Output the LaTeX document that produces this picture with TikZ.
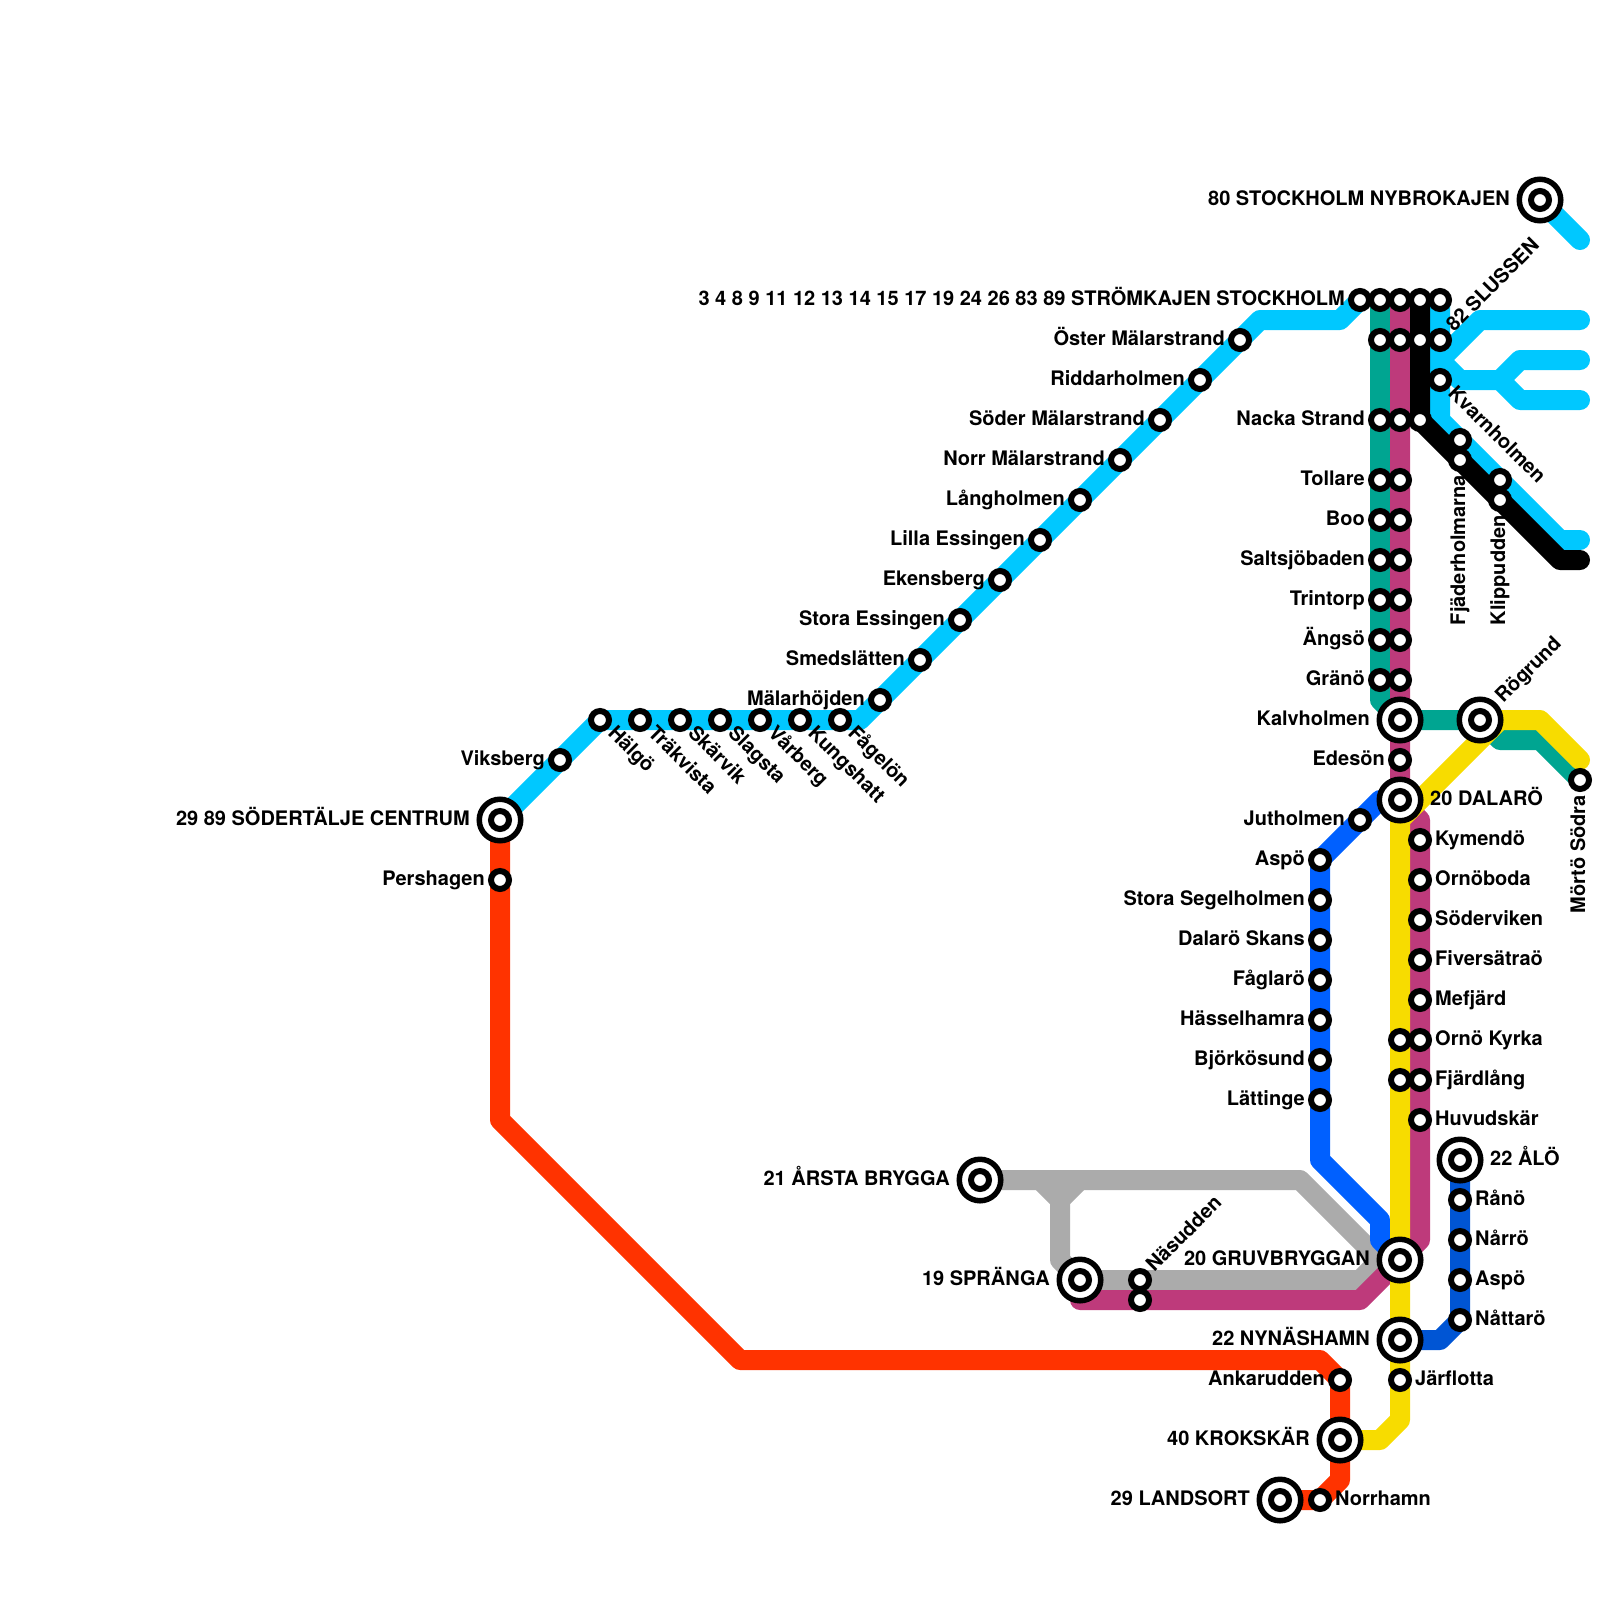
\documentclass[tikz,border=0pt]{standalone}
\usepackage{fontspec}
\setmainfont{TeX Gyre Heros}
\pgfdeclarelayer{lines}
\pgfsetlayers{lines,main}
\definecolor{cCyan}{HTML}{00C8FF}
\definecolor{cTeal}{HTML}{00A591}
\definecolor{cMag}{HTML}{BE3A7B}
\definecolor{cYel}{HTML}{F7DC00}
\definecolor{cBlue}{HTML}{0060FF}
\definecolor{cDark}{HTML}{0055D4}
\definecolor{cRed}{HTML}{FF3300}
\definecolor{cGray}{HTML}{ABABAB}
\tikzset{
  x=1pt,y=-1pt,
  metro/.style={line width=20pt,line cap=round,line join=round},
  st/.style={circle,draw=black,fill=white,line width=6pt,minimum size=18pt,inner sep=0pt},
  bigst/.style={circle,draw=black,fill=white,line width=5.5pt,minimum size=41.5pt,inner sep=0pt},
  txt/.style={inner sep=0pt,font=\bfseries\fontsize{20}{23}\selectfont}
}
\newcommand\W[2]{\coordinate (#1) at (#2);}
\newcommand\lab[5]{\node[txt,rotate=#2,anchor=#4] (l-#1) at ([xshift={((#3)*cos(#2)+5*sin(#2))*1pt},yshift={((#3)*sin(#2)-5*cos(#2))*1pt}]#1.center) {#5};}
\newcommand\SN[2]{\node[st] (#1) at (#2) {};}
\newcommand\BN[2]{\node[bigst] (#1) at (#2) {};\node[st] (#1-i) at (#1.center) {};}
\newcommand\SL[3]{\SN{#1}{#2}\lab{#1}{0}{-15}{base east}{#3}}
\newcommand\SR[3]{\SN{#1}{#2}\lab{#1}{0}{15}{base west}{#3}}
\newcommand\SD[3]{\SN{#1}{#2}\lab{#1}{-45}{15}{base west}{#3}}
\newcommand\SU[3]{\SN{#1}{#2}\lab{#1}{45}{15}{base west}{#3}}
\newcommand\SV[3]{\SN{#1}{#2}\lab{#1}{90}{-15}{base east}{#3}}
\newcommand\BL[3]{\BN{#1}{#2}\lab{#1}{0}{-30}{base east}{#3}}
\newcommand\BR[3]{\BN{#1}{#2}\lab{#1}{0}{30}{base west}{#3}}
\newcommand\BU[3]{\BN{#1}{#2}\lab{#1}{45}{28}{base west}{#3}}
\begin{document}
\begin{tikzpicture}
\useasboundingbox (0,0) rectangle (1600,1600);
% waypoints
\W{c1}{860,720}\W{c2}{1260,320}\W{c3}{1340,320}\W{c4}{1580,240}
\W{c5}{1440,420}\W{c6}{1560,540}\W{c7}{1580,540}
\W{c8}{1580,320}\W{c9}{1480,320}\W{c10}{1440,360}\W{c11}{1460,380}\W{c12}{1500,380}\W{c13}{1520,360}\W{c14}{1580,360}\W{c15}{1520,400}\W{c16}{1580,400}
\W{k1}{1420,420}\W{k2}{1560,560}\W{k3}{1580,560}
\W{t1}{1380,700}\W{t2}{1500,740}\W{t3}{1540,740}
\W{m1}{1400,800}\W{m2}{1420,820}\W{m3}{1420,1240}\W{m4}{1360,1300}\W{m5}{1080,1300}
\W{y1}{1500,720}\W{y2}{1540,720}\W{y3}{1580,760}\W{y4}{1400,820}\W{y5}{1400,1420}\W{y6}{1380,1440}
\W{b1}{1380,800}\W{b2}{1320,1160}\W{b3}{1380,1220}\W{b4}{1380,1240}
\W{d1}{1440,1340}
\W{r1}{500,1120}\W{r2}{740,1360}\W{r3}{1320,1360}\W{r4}{1340,1480}
\W{g1}{1300,1180}\W{g2}{1380,1260}\W{g3}{1040,1180}\W{g4}{1080,1180}\W{g5}{1060,1200}\W{g6}{1060,1260}\W{g7}{1080,1280}\W{g8}{1360,1280}
% stations
\BL{sod}{500,820}{29 89 SÖDERTÄLJE CENTRUM}
\SL{per}{500,880}{Pershagen}
\SL{vik}{560,760}{Viksberg}
\SD{hal}{600,720}{Hälgö}
\SD{tra}{640,720}{Träkvista}
\SD{ska}{680,720}{Skärvik}
\SD{sla}{720,720}{Slagsta}
\SD{var}{760,720}{Vårberg}
\SD{kun}{800,720}{Kungshatt}
\SD{fag}{840,720}{Fågelön}
\SL{mal}{880,700}{Mälarhöjden}
\SL{sme}{920,660}{Smedslätten}
\SL{sto}{960,620}{Stora Essingen}
\SL{eke}{1000,580}{Ekensberg}
\SL{lil}{1040,540}{Lilla Essingen}
\SL{lan}{1080,500}{Långholmen}
\SL{nor}{1120,460}{Norr Mälarstrand}
\SL{sod2}{1160,420}{Söder Mälarstrand}
\SL{rid}{1200,380}{Riddarholmen}
\SL{ost}{1240,340}{Öster Mälarstrand}
\SL{str}{1360,300}{3 4 8 9 11 12 13 14 15 17 19 24 26 83 89 STRÖMKAJEN STOCKHOLM}
\SN{a2}{1380,300}\SN{a3}{1400,300}\SN{a4}{1420,300}\SN{a5}{1440,300}
\SN{e2}{1380,340}\SN{e3}{1400,340}\SN{e4}{1420,340}
\SU{slu}{1440,340}{82 SLUSSEN}
\SD{kva}{1440,380}{Kvarnholmen}
\BL{nyb}{1540,200}{80 STOCKHOLM NYBROKAJEN}
\SL{nac}{1380,420}{Nacka Strand}\SN{n2}{1400,420}\SN{n3}{1420,420}
\SL{tol}{1380,480}{Tollare}\SN{p2}{1400,480}
\SL{boo}{1380,520}{Boo}\SN{q2}{1400,520}
\SL{sal}{1380,560}{Saltsjöbaden}\SN{u2}{1400,560}
\SL{tri}{1380,600}{Trintorp}\SN{v2}{1400,600}
\SL{ang}{1380,640}{Ängsö}\SN{w2}{1400,640}
\SL{gra}{1380,680}{Gränö}\SN{x2}{1400,680}
\SN{f1}{1460,440}
\SV{fja}{1460,460}{Fjäderholmarna}
\SN{f3}{1500,480}
\SV{kli}{1500,500}{Klippudden}
\BL{kal}{1400,720}{Kalvholmen}
\BU{rog}{1480,720}{Rögrund}
\SV{mor}{1580,780}{Mörtö Södra}
\SL{ede}{1400,760}{Edesön}
\BR{dal}{1400,800}{20 DALARÖ}
\SL{jut}{1360,820}{Jutholmen}
\SL{asp}{1320,860}{Aspö}
\SL{seg}{1320,900}{Stora Segelholmen}
\SL{dsk}{1320,940}{Dalarö Skans}
\SL{fgl}{1320,980}{Fåglarö}
\SL{has}{1320,1020}{Hässelhamra}
\SL{bjo}{1320,1060}{Björkösund}
\SL{lat}{1320,1100}{Lättinge}
\SR{kym}{1420,840}{Kymendö}
\SR{orb}{1420,880}{Ornöboda}
\SR{sdv}{1420,920}{Söderviken}
\SR{fiv}{1420,960}{Fiversätraö}
\SR{mef}{1420,1000}{Mefjärd}
\SR{okr}{1420,1040}{Ornö Kyrka}
\SR{fjl}{1420,1080}{Fjärdlång}
\SR{huv}{1420,1120}{Huvudskär}
\SN{h1}{1400,1040}\SN{h2}{1400,1080}
\BR{alo}{1460,1160}{22 ÅLÖ}
\SR{ran}{1460,1200}{Rånö}
\SR{nar}{1460,1240}{Nårrö}
\SR{as2}{1460,1280}{Aspö}
\SR{nat}{1460,1320}{Nåttarö}
\BL{ars}{980,1180}{21 ÅRSTA BRYGGA}
\BL{spr}{1080,1280}{19 SPRÄNGA}
\SU{nas}{1140,1280}{Näsudden}
\SN{nas2}{1140,1300}
\BL{gru}{1400,1260}{20 GRUVBRYGGAN}
\BL{nyn}{1400,1340}{22 NYNÄSHAMN}
\SR{jar}{1400,1380}{Järflotta}
\SL{ank}{1340,1380}{Ankarudden}
\BL{kro}{1340,1440}{40 KROKSKÄR}
\BL{lnd}{1280,1500}{29 LANDSORT}
\SR{nrh}{1320,1500}{Norrhamn}
\begin{pgfonlayer}{lines}
\draw[metro,cCyan] (sod.center) -- (hal.center) -- (c1) -- (c2) -- (c3) -- (str.center);
\draw[metro,cCyan] (nyb.center) -- (c4);
\draw[metro,cCyan] (a5.center) -- (c5) -- (c6) -- (c7);
\draw[metro,cCyan] (c8) -- (c9) -- (c10) -- (c11) -- (c12) -- (c13) -- (c14);
\draw[metro,cCyan] (c12) -- (c15) -- (c16);
\draw[metro,cGray] (ars.center) -- (g1) -- (g2) -- (gru.center);
\draw[metro,cGray] (g3) -- (g5) -- (g4);
\draw[metro,cGray] (g5) -- (g6) -- (g7) -- (g8) -- (g2);
\draw[metro,cRed] (sod.center) -- (r1) -- (r2) -- (r3) -- (ank.center) -- (r4) -- (nrh.center) -- (lnd.center);
\draw[metro,cDark] (alo.center) -- (nat.center) -- (d1) -- (nyn.center);
\draw[metro,cTeal] (a2.center) -- (t1) -- (kal.center) -- (rog.center) -- (t2) -- (t3) -- (mor.center);
\draw[metro,cMag] (a3.center) -- (m1) -- (m2) -- (m3) -- (gru.center) -- (m4) -- (m5) -- (spr.center);
\draw[metro,black] (a4.center) -- (k1) -- (k2) -- (k3);
\draw[metro,cBlue] (dal.center) -- (b1) -- (asp.center) -- (b2) -- (b3) -- (b4) -- (gru.center);
\draw[metro,cYel] (y3) -- (y2) -- (y1) -- (y4) -- (y5) -- (y6) -- (kro.center);
\end{pgfonlayer}
\end{tikzpicture}
\end{document}
